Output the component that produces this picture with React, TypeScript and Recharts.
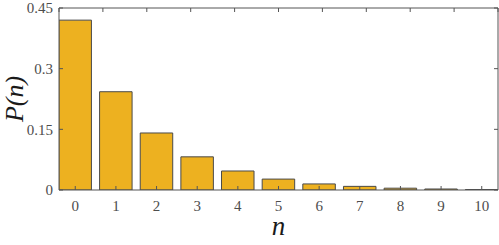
import React from 'react';
import { BarChart, Bar, XAxis, YAxis, Label } from 'recharts';

// P(n)
const nValues = [0, 1, 2, 3, 4, 5, 6, 7, 8, 9, 10];
const probs = [0.42, 0.243, 0.141, 0.082, 0.047, 0.027, 0.015, 0.009, 0.0045, 0.0025, 0.0012];
const yTicks = [0, 0.15, 0.3, 0.45];
const yTickLabels = ['0', '0.15', '0.3', '0.45'];

const data = nValues.map((n, i) => ({ n, p: probs[i] }));

const SERIF = 'Liberation Serif, serif';
const AXIS = '#555555';
const tickStyle = { fontSize: 15, fill: '#4d4d4d', fontFamily: SERIF };

const App = () => {
  return (
    <div style={{ position: 'absolute', left: 0, top: 0, background: '#fff', fontFamily: SERIF }}>
      <BarChart
        width={499}
        height={245}
        data={data}
        margin={{ top: 7, right: 0, left: 0, bottom: 0 }}
        barCategoryGap={0}
        style={{ fontFamily: SERIF }}
      >
        <Bar
          dataKey="p"
          xAxisId="bottom"
          yAxisId="left"
          fill="#EDB120"
          stroke="#4a4a4a"
          strokeWidth={1}
          barSize={32.5}
          isAnimationActive={false}
        />
        <XAxis
          xAxisId="bottom"
          dataKey="n"
          type="number"
          domain={[-0.4, 10.4]}
          ticks={nValues}
          interval={0}
          height={55}
          tickSize={-4}
          tickMargin={14}
          stroke={AXIS}
          tick={tickStyle}
          allowDataOverflow
        >
          <Label
            value="n"
            position="insideBottom"
            offset={10}
            fontFamily={SERIF}
            style={{ fontSize: 27, fontStyle: 'italic', fontFamily: SERIF, fill: '#1a1a1a' }}
          />
        </XAxis>
        <XAxis
          xAxisId="top"
          orientation="top"
          type="number"
          domain={[-0.4, 10.4]}
          ticks={nValues}
          interval={0}
          height={1}
          tickSize={-4}
          tickFormatter={() => ''}
          stroke={AXIS}
          allowDataOverflow
        />
        <YAxis
          yAxisId="left"
          type="number"
          domain={[0, 0.45]}
          ticks={yTicks}
          interval={0}
          width={59}
          tickSize={-4}
          tickMargin={10}
          stroke={AXIS}
          tick={tickStyle}
          tickFormatter={(v: number) => yTickLabels[yTicks.indexOf(v)] ?? String(v)}
          allowDataOverflow
        >
          <Label
            value="P(n)"
            angle={-90}
            position="insideLeft"
            offset={14}
            fontFamily={SERIF}
            style={{ textAnchor: 'middle', fontSize: 26, fontStyle: 'italic', fontFamily: SERIF, fill: '#1a1a1a' }}
          />
        </YAxis>
        <YAxis
          yAxisId="right"
          orientation="right"
          type="number"
          domain={[0, 0.45]}
          ticks={yTicks}
          interval={0}
          width={1}
          tickSize={-4}
          tickFormatter={() => ''}
          stroke={AXIS}
          allowDataOverflow
        />
      </BarChart>
    </div>
  );
};

export default App;
